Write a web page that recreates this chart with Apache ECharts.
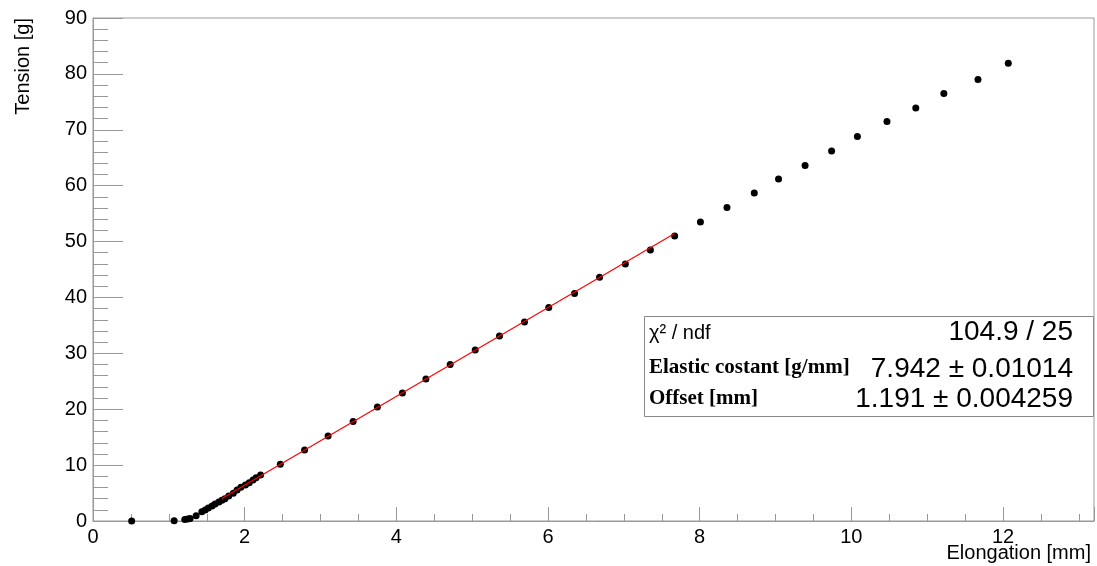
<!DOCTYPE html>
<html>
<head>
<meta charset="utf-8">
<script src="https://cdn.jsdelivr.net/npm/echarts@6/dist/echarts.min.js"></script>
<style>
html,body{margin:0;padding:0;background:#fff;}
#chart{width:1097px;height:566px;}
</style>
</head>
<body>
<div id="chart"></div>
<script>
// ---- data ----
const elongation = [0.51, 1.07, 1.21, 1.25, 1.28, 1.36, 1.435, 1.48, 1.52, 1.57, 1.61, 1.66, 1.70, 1.74, 1.79, 1.85, 1.90, 1.95, 2.01, 2.06, 2.11, 2.15, 2.21,
  2.47, 2.79, 3.10, 3.43, 3.75, 4.08, 4.39, 4.71, 5.04, 5.36, 5.69, 6.01, 6.35, 6.68, 7.02, 7.35, 7.67,
  8.01, 8.36, 8.72, 9.04, 9.39, 9.74, 10.08, 10.47, 10.85, 11.22, 11.67, 12.07];
const tension = [0.0, 0.05, 0.25, 0.35, 0.45, 0.95, 1.67, 1.97, 2.33, 2.69, 3.04, 3.40, 3.70, 4.00, 4.48, 4.95, 5.55, 6.03, 6.45, 6.86, 7.34, 7.76, 8.24,
  10.15, 12.7, 15.2, 17.8, 20.4, 22.9, 25.4, 28.0, 30.6, 33.1, 35.6, 38.2, 40.7, 43.6, 46.0, 48.5, 51.0,
  53.5, 56.1, 58.7, 61.2, 63.6, 66.2, 68.8, 71.5, 73.9, 76.5, 79.0, 81.9];
// fit results and range
const fitSlope = 7.942;
const fitOffset = 1.191;
const fitRange = [1.70, 7.67];
// axis ranges / tick steps
const xRange = [0, 13.2];
const yRange = [0, 90];
const xMajorStep = 2, xMinorStep = 0.5, yMajorStep = 10;
const statsLabels = ['χ² / ndf', 'Elastic costant [g/mm]', 'Offset [mm]'];
const statsValues = ['104.9 / 25', '7.942 ± 0.01014', '1.191 ± 0.004259'];

const points = elongation.map((x, i) => [x, tension[i]]);
const fitLine = fitRange.map(x => [x, fitSlope * (x - fitOffset)]);

const SANS = '"Liberation Sans", Arial, Helvetica, sans-serif';
const SERIF = '"Liberation Serif", "Times New Roman", serif';
const AX = '#999999';

const chart = echarts.init(document.getElementById('chart'), null, {renderer: 'canvas'});
const G = {left: 93, top: 18, right: 3, bottom: 45, containLabel: false, outerBoundsMode: 'none'};

chart.setOption({
  animation: false,
  backgroundColor: '#ffffff',
  grid: [
    Object.assign({show: true, borderColor: AX, borderWidth: 1, backgroundColor: 'transparent'}, G),
    Object.assign({show: false}, G)
  ],
  xAxis: [{
    // minor ticks (data axis)
    gridIndex: 0, type: 'value', min: xRange[0], max: xRange[1], interval: xMinorStep,
    axisLine: {show: true, onZero: false, lineStyle: {color: AX, width: 1}},
    axisTick: {show: true, inside: true, length: 7, interval: 0, lineStyle: {color: AX}},
    axisLabel: {show: false},
    splitLine: {show: false}
  }, {
    // major ticks + labels
    gridIndex: 1, type: 'value', min: xRange[0], max: xRange[1], interval: xMajorStep,
    axisLine: {show: false},
    axisTick: {show: true, inside: true, length: 14, interval: 0, lineStyle: {color: AX}},
    axisLabel: {
      color: '#000', fontFamily: SANS, fontSize: 20, margin: 6, interval: 0,
      formatter: v => (Math.abs(v / xMajorStep - Math.round(v / xMajorStep)) < 1e-6) ? String(Math.round(v)) : ''
    },
    splitLine: {show: false}
  }],
  yAxis: [{
    gridIndex: 0, type: 'value', min: yRange[0], max: yRange[1], interval: yMajorStep,
    axisLine: {show: true, onZero: false, lineStyle: {color: AX, width: 1}},
    axisTick: {show: true, inside: true, length: 30, lineStyle: {color: AX}},
    minorTick: {show: true, splitNumber: 5, length: 15, lineStyle: {color: AX}},
    axisLabel: {color: '#000', fontFamily: SANS, fontSize: 20, margin: 6},
    splitLine: {show: false}
  }, {
    gridIndex: 1, type: 'value', min: yRange[0], max: yRange[1], show: false
  }],
  series: [{
    type: 'scatter', xAxisIndex: 0, yAxisIndex: 0, data: points, symbol: 'circle', symbolSize: 7,
    itemStyle: {color: '#000', opacity: 1}, z: 2
  }, {
    type: 'line', xAxisIndex: 0, yAxisIndex: 0, data: fitLine, showSymbol: false, symbol: 'none',
    lineStyle: {color: '#ff0000', width: 1.2}, z: 3, silent: true
  }],
  graphic: [
    {type: 'text', x: 23, y: 18, rotation: Math.PI / 2,
      style: {text: 'Tension [g]', fill: '#000', font: '20px ' + SANS, align: 'right', verticalAlign: 'middle'}},
    {type: 'text', x: 1091, y: 553,
      style: {text: 'Elongation [mm]', fill: '#000', font: '20px ' + SANS, align: 'right', verticalAlign: 'middle'}},
    {type: 'rect', shape: {x: 644.5, y: 316.5, width: 449, height: 100},
      style: {fill: '#fff', stroke: '#888', lineWidth: 1}, z: 10},
    {type: 'text', x: 649, y: 333, z: 11,
      style: {text: statsLabels[0], fill: '#000', font: '20px ' + SANS, align: 'left', verticalAlign: 'middle'}},
    {type: 'text', x: 649, y: 368, z: 11,
      style: {text: statsLabels[1], fill: '#000', font: 'bold 21px ' + SERIF, align: 'left', verticalAlign: 'middle'}},
    {type: 'text', x: 649, y: 399, z: 11,
      style: {text: statsLabels[2], fill: '#000', font: 'bold 21px ' + SERIF, align: 'left', verticalAlign: 'middle'}},
    {type: 'text', x: 1073, y: 332, z: 11,
      style: {text: statsValues[0], fill: '#000', font: '28px ' + SANS, align: 'right', verticalAlign: 'middle'}},
    {type: 'text', x: 1073, y: 369, z: 11,
      style: {text: statsValues[1], fill: '#000', font: '28px ' + SANS, align: 'right', verticalAlign: 'middle'}},
    {type: 'text', x: 1073, y: 399, z: 11,
      style: {text: statsValues[2], fill: '#000', font: '28px ' + SANS, align: 'right', verticalAlign: 'middle'}}
  ]
});
</script>
</body>
</html>
